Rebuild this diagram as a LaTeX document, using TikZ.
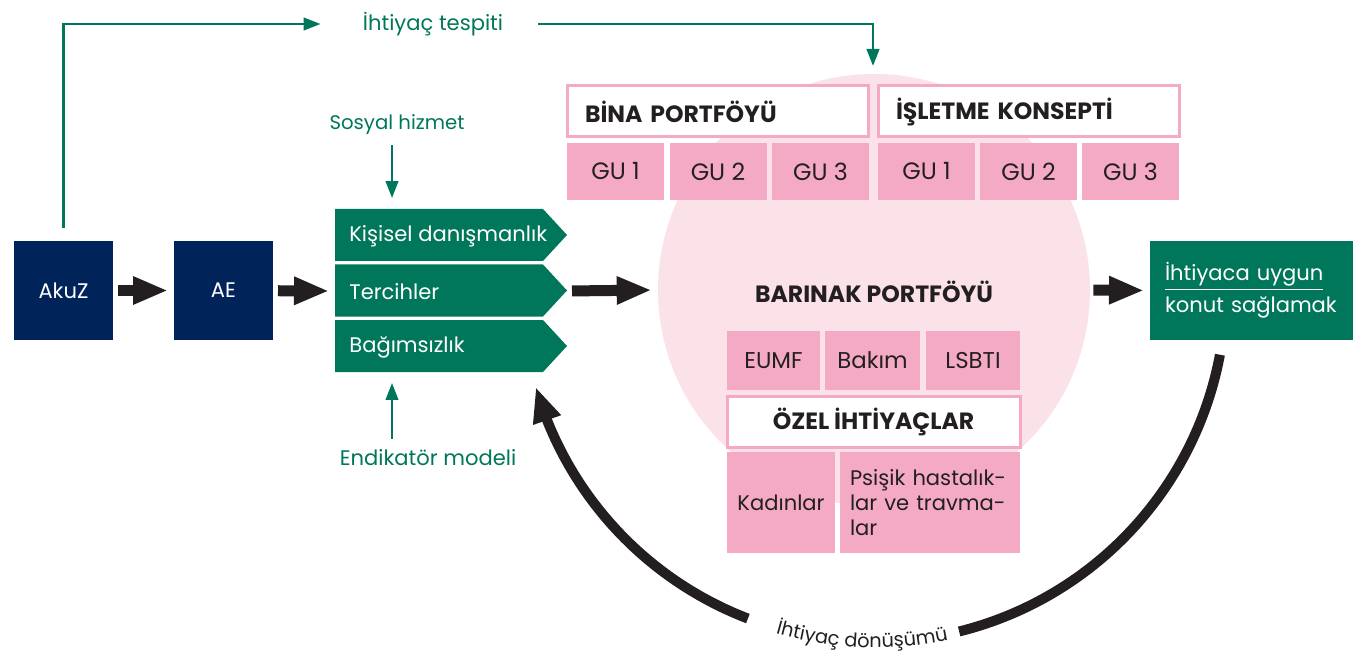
\documentclass[tikz,border=0pt]{standalone}
\usepackage{fontspec}
\setmainfont{Poppins}
\usepackage{xcolor}
\usepackage{tikz}
\usetikzlibrary{calc,arrows.meta,decorations.text}

\definecolor{pfNavy}{HTML}{00235A}
\definecolor{pfGreen}{HTML}{00775A}
\definecolor{pfPink}{HTML}{F4AAC4}
\definecolor{pfRose}{HTML}{FBE1E8}
\definecolor{pfInk}{HTML}{231F20}

\newcommand{\pxu}{0.02cm}
\newcommand{\loopRadius}{7.04cm}
\newcommand{\labelFont}{\fontsize{12}{15}\selectfont}
\newcommand{\cellFont}{\fontsize{13}{15}\selectfont}
\newcommand{\headFont}{\fontsize{13.4}{15}\selectfont\bfseries}
\newcommand{\loopFont}{\fontsize{11}{13}\selectfont}

\tikzset{
	cell/.style={anchor=north west, inner sep=0pt, outer sep=0pt, text=pfInk, font=\labelFont},
	pinkcell/.style={cell, fill=pfPink, font=\cellFont},
	headcell/.style={cell, fill=white, draw=pfPink, line width=0.06cm, font=\headFont},
	tag/.style={inner sep=0pt, text=pfGreen, font=\labelFont},
	flow/.style={draw=pfGreen, line width=0.05cm, -{Triangle[length=0.34cm,width=0.25cm]}},
	blockarrow/.style={draw=pfInk, line width=0.22cm, shorten <=0.1cm, shorten >=0.12cm, -{Triangle[length=0.7cm,width=0.52cm]}},
	loopline/.style={draw=pfInk, line width=0.2cm}
}

\begin{document}
\begin{tikzpicture}[x=\pxu, y=-\pxu]
	\useasboundingbox (0,0) rectangle (1354,658);

	% housing ring
	\node[circle, fill=pfRose, minimum size=432*\pxu, inner sep=0pt] (ring) at (874,290) {};
	\node[font=\headFont, text=pfInk] (barinak) at (874,292) {BARINAK PORTFÖYÜ};

	% source boxes
	\node[cell, fill=pfNavy, text=white, minimum size=99*\pxu] (akuz) at (14,241) {AkuZ};
	\node[cell, fill=pfNavy, text=white, minimum size=99*\pxu] (ae) at (174,241) {AE};

	% counselling stack
	\foreach \row/\name/\label in {0/kisisel/Kişisel danışmanlık, 1/tercih/Tercihler, 2/bagimsiz/Bağımsızlık}
	{
		\fill[pfGreen] (335,{209+55.5*\row}) -- ++(208,0) -- ++(24,26) -- ++(-24,26) -- ++(-208,0) -- cycle;
		\node[anchor=west, inner sep=0pt, text=white, font=\labelFont] (\name) at (349,{236+55.5*\row}) {\label};
	}
	\coordinate (stack-in) at (335,291);
	\coordinate (tercih-tip) at (567,291);

	\node[tag, font=\fontsize{11.2}{13}\selectfont] (social) at (397,125) {Sosyal hizmet};
	\node[tag] (indicator) at (428,458) {Endikatör modeli};
	\coordinate (sos-in) at (392,198);
	\coordinate (ind-in) at (392,383);

	% building and operating portfolios
	\node[headcell, minimum width=301*\pxu, minimum height=51*\pxu, inner xsep=0.36cm, text width=5.3cm, align=left] (bina) at (567,86) {BİNA PORTFÖYÜ};
	\node[headcell, minimum width=301*\pxu, minimum height=51*\pxu, inner xsep=0.36cm, text width=5.3cm, align=left] (isletme) at (878,86) {İŞLETME KONSEPTİ};
	\foreach \i/\x in {1/567, 2/669.5, 3/772}
		\node[pinkcell, font=\fontsize{13.5}{15}\selectfont, minimum width=97*\pxu, minimum height=57*\pxu] (bina-gu\i) at (\x,143) {GU \i};
	\foreach \i/\x in {1/878, 2/980, 3/1082}
		\node[pinkcell, font=\fontsize{13.5}{15}\selectfont, minimum width=97*\pxu, minimum height=57*\pxu] (isletme-gu\i) at (\x,143) {GU \i};

	% special needs
	\foreach \name/\x/\w/\label in {eumf/727/93/EUMF, bakim/825/95/Bakım, lsbti/926/94/LSBTI}
		\node[pinkcell, minimum width=\w*\pxu, minimum height=59*\pxu] (\name) at (\x,331) {\label};
	\node[headcell, minimum width=293*\pxu, minimum height=51*\pxu] (ozel) at (727,396) {ÖZEL İHTİYAÇLAR};
	\node[pinkcell, font=\labelFont, minimum width=108*\pxu, minimum height=101*\pxu] (kadin) at (727,452) {Kadınlar};
	\node[pinkcell, minimum width=180*\pxu, minimum height=101*\pxu, inner xsep=0.2cm, text width=3.2cm, align=left, font=\fontsize{12}{14}\selectfont] (psisik) at (840,452) {Psişik hastalık-\\lar ve travma-\\lar};

	% goal
	\node[cell, fill=pfGreen, text=white, minimum width=203*\pxu, minimum height=99*\pxu, inner xsep=0.3cm, text width=3.46cm, align=left, font=\fontsize{12}{18}\selectfont] (goal) at (1150,241) {\underline{İhtiyaca uygun}\\konut sağlamak};

	% needs assessment
	\node[tag] (need) at (433,24) {İhtiyaç tespiti};
	\coordinate (need-in) at (873,66);
	\draw[flow, shorten <=0.26cm, shorten >=0.84cm] (akuz.north) |- (need.west);
	\draw[flow, shorten <=0.7cm] (need.east) -| (need-in);
	\draw[flow, shorten <=0.2cm] (social.south -| sos-in) -- (sos-in);
	\draw[flow, shorten <=0.22cm] (indicator.north -| ind-in) -- (ind-in);

	% main chain
	\draw[blockarrow] (akuz) -- (ae);
	\draw[blockarrow] (ae) -- (stack-in);
	\draw[blockarrow] (tercih-tip) -- (ring.west);
	\draw[blockarrow, shorten <=0.06cm] (ring.east) -- (goal.west);

	% feedback loop
	\draw[loopline] ($(ring)+(-10.6:\loopRadius)$) arc[start angle=-10.6, end angle=-76, radius=\loopRadius];
	\draw[loopline, -{Triangle[length=0.7cm,width=0.54cm]}] ($(ring)+(-111:\loopRadius)$) arc[start angle=-111, end angle=-158, radius=\loopRadius] -- ($(ring)+(-164:\loopRadius)$);
	\path[decorate, decoration={text along path, text align=center, text={|\loopFont\color{pfInk}|İhtiyaç dönüşümü}}] ($(ring)+(-112:7.15cm)$) arc[start angle=-112, end angle=-72, radius=7.15cm];
\end{tikzpicture}
\end{document}
